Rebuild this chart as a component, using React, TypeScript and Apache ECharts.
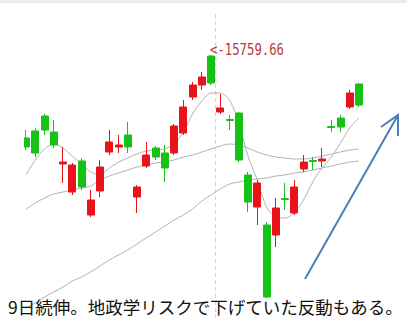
import React, { useEffect, useRef } from 'react';
import * as echarts from 'echarts';

// Trading days (Nikkei 225, Jul–Aug 2014)
const categories = [
  '7/2', '7/3', '7/4', '7/7', '7/8', '7/9', '7/10', '7/11', '7/14', '7/15',
  '7/16', '7/17', '7/18', '7/22', '7/23', '7/24', '7/25', '7/28', '7/29', '7/30',
  '7/31', '8/1', '8/4', '8/5', '8/6', '8/7', '8/8', '8/11', '8/12', '8/13',
  '8/14', '8/15', '8/18', '8/19', '8/20', '8/21', '8/22',
];
const opens = [
  15428, 15456, 15516, 15452, 15324, 15212, 15336, 15120, 15216, 15372,
  15392, 15440, 15192, 15316, 15388, 15368, 15368, 15448, 15592, 15640,
  15756, 15532, 15502, 15528, 15280, 15152, 15080, 15040, 15186, 15128,
  15304, 15338, 15336, 15474, 15508, 15552, 15644,
];
const closes = [
  15392, 15368, 15460, 15400, 15332, 15320, 15232, 15180, 15312, 15412,
  15400, 15392, 15232, 15360, 15352, 15308, 15476, 15552, 15640, 15672,
  15648, 15548, 15498, 15340, 15172, 15248, 14792, 15148, 15182, 15232,
  15332, 15334, 15344, 15470, 15472, 15608, 15560,
];
const lows = [
  15380, 15352, 15440, 15388, 15248, 15200, 15220, 15112, 15192, 15360,
  15368, 15368, 15128, 15308, 15340, 15252, 15360, 15440, 15580, 15620,
  15640, 15524, 15460, 15332, 15132, 15080, 14788, 14992, 15140, 15120,
  15292, 15300, 15312, 15452, 15452, 15544, 15552,
];
const highs = [
  15460, 15468, 15524, 15500, 15392, 15328, 15348, 15220, 15340, 15460,
  15440, 15492, 15240, 15412, 15396, 15400, 15484, 15580, 15652, 15692,
  15759.66, 15604, 15520, 15532, 15292, 15260, 15092, 15188, 15248, 15260,
  15360, 15352, 15388, 15500, 15520, 15620, 15648,
];
const maShort = [
  15280, 15340, 15384, 15404, 15388, 15356, 15324, 15292, 15280, 15308,
  15332, 15348, 15364, 15376, 15380, 15384, 15404, 15452, 15524, 15576,
  15608, 15608, 15580, 15488, 15356, 15260, 15152, 15112, 15108, 15128,
  15180, 15252, 15308, 15352, 15408, 15468, 15508,
];
const maMid = [
  15144, 15168, 15188, 15204, 15212, 15220, 15228, 15236, 15260, 15276,
  15288, 15300, 15312, 15320, 15328, 15332, 15340, 15352, 15360, 15372,
  15384, 15396, 15404, 15400, 15388, 15372, 15360, 15352, 15348, 15344,
  15344, 15348, 15356, 15364, 15372, 15380, 15384,
];
const maLong = [
  14748, 14768, 14792, 14812, 14832, 14856, 14872, 14892, 14916, 14940,
  14960, 14980, 15004, 15028, 15052, 15076, 15100, 15120, 15144, 15176,
  15200, 15224, 15244, 15252, 15260, 15264, 15268, 15276, 15280, 15288,
  15292, 15300, 15308, 15316, 15324, 15332, 15336,
];
const highLabel = '<-15759.66';
const highIndex = 20;
const caption = '9日続伸。地政学リスクで下げていた反動もある。';

const RED = '#e8131b';
const GREEN = '#16c216';
const MA_COLOR = '#b2b2b2';

export default function App() {
  const ref = useRef<HTMLDivElement>(null);
  useEffect(() => {
    const chart = echarts.init(ref.current!, null, { renderer: 'svg' });
    const candleData = categories.map((_, i) => [opens[i], closes[i], lows[i], highs[i]]);
    const maLine = (data: number[]) => ({
      type: 'line',
      data,
      symbol: 'none',
      smooth: 0.3,
      silent: true,
      lineStyle: { color: MA_COLOR, width: 1 },
      z: 1,
    });
    chart.setOption({
      animation: false,
      grid: { left: 21.375, width: 342.25, top: 20, height: 298 },
      xAxis: { type: 'category', data: categories, show: false, boundaryGap: true },
      yAxis: { type: 'value', min: 14708, max: 15900, show: false },
      series: [
        maLine(maShort),
        maLine(maMid),
        maLine(maLong),
        {
          type: 'candlestick',
          data: candleData,
          barWidth: 7.5,
          z: 3,
          itemStyle: {
            color: RED,
            color0: GREEN,
            borderColor: RED,
            borderColor0: GREEN,
            borderWidth: 1,
          },
        },
      ],
    });
    const hi = chart.convertToPixel({ gridIndex: 0 }, [highIndex, highs[highIndex]]) as number[];
    const a = chart.convertToPixel({ gridIndex: 0 }, [highIndex, 15000]) as number[];
    const b = chart.convertToPixel({ gridIndex: 0 }, [highIndex + 1, 15000]) as number[];
    const sepX = (a[0] + b[0]) / 2;
    chart.setOption({
      graphic: [
        { type: 'rect', shape: { x: 0, y: 0, width: 407, height: 3 }, style: { fill: '#ececec' }, z: 50 },
        { type: 'rect', shape: { x: 0, y: 3, width: 24, height: 292 }, style: { fill: '#ffffff' }, z: 40 },
        {
          type: 'line',
          shape: { x1: sepX, y1: 14, x2: sepX, y2: 318 },
          style: { stroke: '#cfcfcf', lineWidth: 1, lineDash: [4, 3] },
          z: 0,
        },
        {
          type: 'text',
          x: hi[0] - 1,
          y: hi[1] - 6,
          scaleY: 1.3,
          z: 60,
          style: {
            text: highLabel,
            fill: '#b8393e',
            font: '12.3px "DejaVu Sans Mono", monospace',
            verticalAlign: 'middle',
            align: 'left',
          },
        },
        {
          type: 'line',
          shape: { x1: 305, y1: 279, x2: 398, y2: 115 },
          style: { stroke: '#4a7ebb', lineWidth: 2 },
          z: 60,
        },
        {
          type: 'polyline',
          shape: { points: [[381, 127], [398, 115], [398, 136]] },
          style: { stroke: '#4a7ebb', lineWidth: 2, fill: null },
          z: 60,
        },
        {
          type: 'text',
          x: 8,
          y: 306,
          z: 70,
          style: {
            text: caption,
            fill: '#111111',
            font: '17.5px "Noto Sans CJK JP", sans-serif',
            verticalAlign: 'middle',
            align: 'left',
          },
        },
      ],
    });
    return () => chart.dispose();
  }, []);
  return (
    <div
      ref={ref}
      style={{ position: 'absolute', left: 0, top: 0, width: 407, height: 318, background: '#ffffff' }}
    />
  );
}
